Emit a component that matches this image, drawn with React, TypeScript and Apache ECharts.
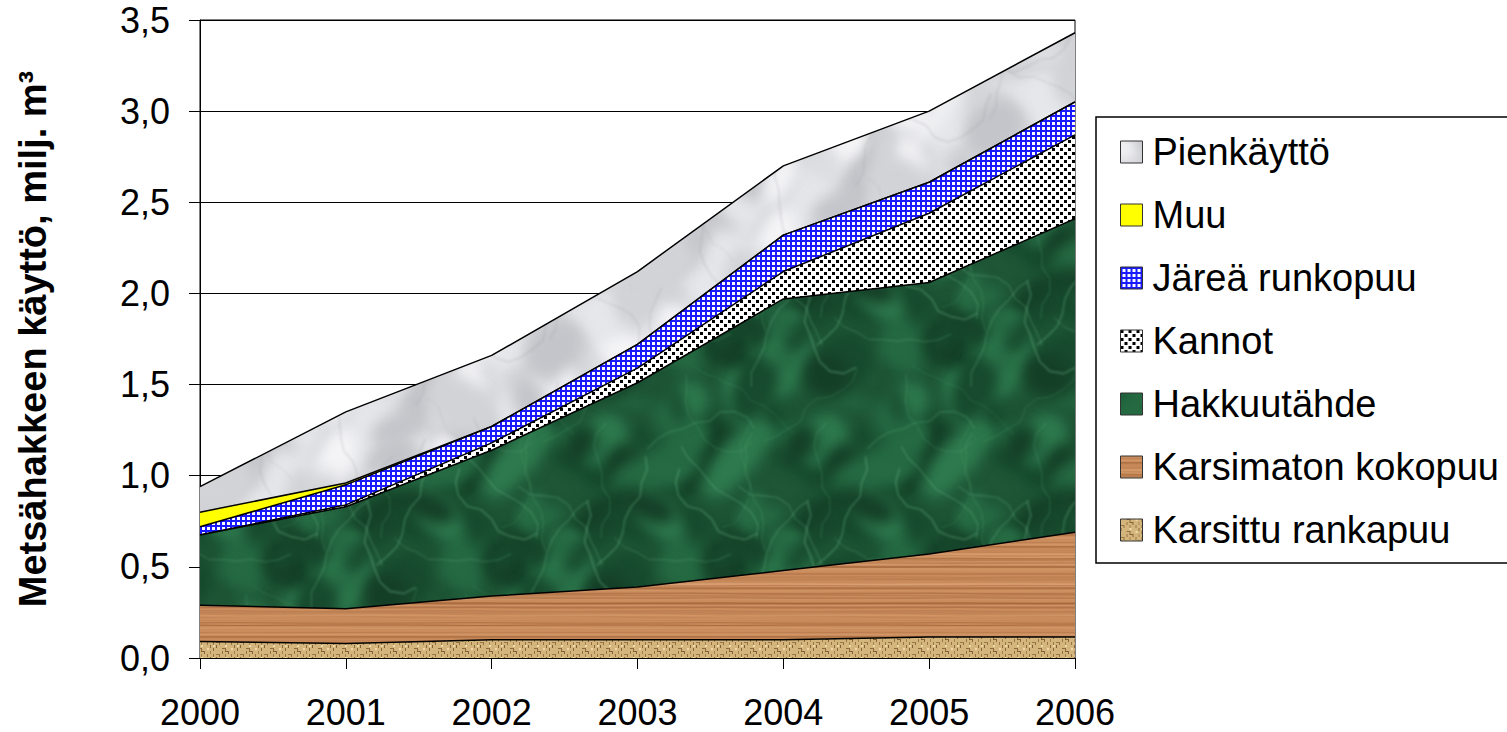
import React, { useEffect, useRef } from 'react';
import * as echarts from 'echarts';

// Forest chip use by source, million m³ (stacked from the bottom up)
const years = ['2000', '2001', '2002', '2003', '2004', '2005', '2006'];
const karsittuRankapuu = [0.09, 0.08, 0.1, 0.1, 0.1, 0.115, 0.115];
const karsimatonKokopuu = [0.2, 0.19, 0.24, 0.29, 0.38, 0.455, 0.575];
const hakkuutahde = [0.385, 0.56, 0.8, 1.12, 1.49, 1.49, 1.72];
const kannot = [0, 0.01, 0.04, 0.08, 0.15, 0.38, 0.46];
const jareaRunkopuu = [0.045, 0.11, 0.09, 0.13, 0.2, 0.17, 0.18];
const muu = [0.08, 0.01, 0, 0, 0, 0, 0];
const pienkaytto = [0.14, 0.39, 0.39, 0.4, 0.38, 0.39, 0.38];

const legendOrder = [
  'Pienkäyttö',
  'Muu',
  'Järeä runkopuu',
  'Kannot',
  'Hakkuutähde',
  'Karsimaton kokopuu',
  'Karsittu rankapuu',
];

const FONT = '"Liberation Sans", Arial, sans-serif';

// ---- texture helpers -------------------------------------------------------
function rng(seed: number) {
  let a = seed;
  return () => {
    a |= 0;
    a = (a + 0x6d2b79f5) | 0;
    let t = Math.imul(a ^ (a >>> 15), 1 | a);
    t = (t + Math.imul(t ^ (t >>> 7), 61 | t)) ^ t;
    return ((t ^ (t >>> 14)) >>> 0) / 4294967296;
  };
}

function makeCanvas(w: number, h: number) {
  const c = document.createElement('canvas');
  c.width = w;
  c.height = h;
  return c;
}

function toPattern(c: HTMLCanvasElement) {
  return {
    image: c.toDataURL(),
    repeat: 'repeat',
    imageWidth: c.width,
    imageHeight: c.height,
  } as any;
}

function wrapped(w: number, h: number, fn: (dx: number, dy: number) => void) {
  for (const dx of [-w, 0, w]) for (const dy of [-h, 0, h]) fn(dx, dy);
}

function marble(
  size: number,
  base: string,
  blobs: string[],
  veins: string[],
  veinWidth: number,
  veinCount: number,
  seed: number
) {
  const c = makeCanvas(size, size);
  const ctx = c.getContext('2d')!;
  const r = rng(seed);
  ctx.fillStyle = base;
  ctx.fillRect(0, 0, size, size);
  ctx.filter = 'blur(7px)';
  for (let i = 0; i < 45; i++) {
    const x = r() * size;
    const y = r() * size;
    const rx = 10 + r() * 40;
    const ry = 5 + r() * 22;
    const rot = r() * Math.PI;
    ctx.fillStyle = blobs[Math.floor(r() * blobs.length)];
    wrapped(size, size, (dx, dy) => {
      ctx.beginPath();
      ctx.ellipse(x + dx, y + dy, rx, ry, rot, 0, Math.PI * 2);
      ctx.fill();
    });
  }
  ctx.filter = 'blur(0.8px)';
  for (let i = 0; i < veinCount; i++) {
    const pts: [number, number][] = [];
    let x = r() * size;
    let y = r() * size;
    let ang = r() * Math.PI * 2;
    pts.push([x, y]);
    for (let k = 0; k < 9; k++) {
      ang += (r() - 0.5) * 1.4;
      x += Math.cos(ang) * 14;
      y += Math.sin(ang) * 14;
      pts.push([x, y]);
    }
    ctx.strokeStyle = veins[Math.floor(r() * veins.length)];
    ctx.lineWidth = veinWidth * (0.5 + r());
    wrapped(size, size, (dx, dy) => {
      ctx.beginPath();
      pts.forEach(([px, py], j) =>
        j === 0 ? ctx.moveTo(px + dx, py + dy) : ctx.lineTo(px + dx, py + dy)
      );
      ctx.stroke();
    });
  }
  ctx.filter = 'none';
  return c;
}

function wood() {
  const w = 240;
  const h = 90;
  const c = makeCanvas(w, h);
  const ctx = c.getContext('2d')!;
  const r = rng(77);
  ctx.fillStyle = '#c98b5b';
  ctx.fillRect(0, 0, w, h);
  for (let i = 0; i < 70; i++) {
    const y = r() * h;
    const dark = r() < 0.55;
    const a = 0.12 + r() * 0.3;
    ctx.strokeStyle = dark ? `rgba(140,80,40,${a})` : `rgba(230,175,130,${a})`;
    ctx.lineWidth = 0.6 + r() * 1.8;
    const o1 = (r() - 0.5) * 3;
    const o2 = (r() - 0.5) * 3;
    for (const dy of [-h, 0, h]) {
      ctx.beginPath();
      ctx.moveTo(0, y + dy);
      ctx.bezierCurveTo(w * 0.33, y + o1 + dy, w * 0.66, y + o2 + dy, w, y + dy);
      ctx.stroke();
    }
  }
  return c;
}

function burlap() {
  const w = 24;
  const h = 12;
  const c = makeCanvas(w, h);
  const ctx = c.getContext('2d')!;
  const r = rng(5);
  ctx.fillStyle = '#d4b57c';
  ctx.fillRect(0, 0, w, h);
  for (let y = 0; y < h; y += 3) {
    for (let x = 0; x < w; x += 3) {
      const v = r();
      if (v < 0.4) {
        ctx.fillStyle = `rgba(110,75,35,${0.45 + r() * 0.4})`;
        if ((x + y) % 2 === 0) ctx.fillRect(x, y, 3, 1);
        else ctx.fillRect(x, y, 1, 3);
      } else if (v < 0.6) {
        ctx.fillStyle = 'rgba(245,228,185,0.8)';
        ctx.fillRect(x, y, 2, 2);
      }
    }
  }
  return c;
}

function blueGrid() {
  const c = makeCanvas(5, 5);
  const ctx = c.getContext('2d')!;
  ctx.fillStyle = '#ffffff';
  ctx.fillRect(0, 0, 5, 5);
  ctx.fillStyle = '#1a1aff';
  ctx.fillRect(0, 0, 5, 2);
  ctx.fillRect(0, 0, 2, 5);
  return c;
}

function dots() {
  const c = makeCanvas(8, 8);
  const ctx = c.getContext('2d')!;
  ctx.fillStyle = '#ffffff';
  ctx.fillRect(0, 0, 8, 8);
  ctx.fillStyle = '#000000';
  ctx.fillRect(0, 0, 3, 3);
  ctx.fillRect(4, 4, 3, 3);
  return c;
}

export default function App() {
  const ref = useRef<HTMLDivElement>(null);

  useEffect(() => {
    if (!ref.current) return;
    document.body.style.margin = '0';
    const chart = echarts.init(ref.current, undefined, { renderer: 'svg' });

    const fills: Record<string, any> = {
      'Karsittu rankapuu': toPattern(burlap()),
      'Karsimaton kokopuu': toPattern(wood()),
      Hakkuutähde: toPattern(
        marble(
          220,
          '#1e5636',
          ['#143f27', '#174a2e', '#2e7a4e', '#256a42'],
          ['rgba(130,210,160,0.3)', 'rgba(90,170,120,0.3)'],
          1.3,
          14,
          11
        )
      ),
      Kannot: toPattern(dots()),
      'Järeä runkopuu': toPattern(blueGrid()),
      Muu: '#ffff00',
      Pienkäyttö: toPattern(
        marble(
          220,
          '#e6e7ea',
          ['#d2d3d7', '#f4f4f6', '#dcdde0', '#c4c5ca'],
          ['rgba(150,150,158,0.25)'],
          1.2,
          8,
          23
        )
      ),
    };

    const stackOrder: [string, number[]][] = [
      ['Karsittu rankapuu', karsittuRankapuu],
      ['Karsimaton kokopuu', karsimatonKokopuu],
      ['Hakkuutähde', hakkuutahde],
      ['Kannot', kannot],
      ['Järeä runkopuu', jareaRunkopuu],
      ['Muu', muu],
      ['Pienkäyttö', pienkaytto],
    ];

    const series = stackOrder.map(([name, data], i) => ({
      name,
      type: 'line',
      stack: 'total',
      data,
      symbol: 'none',
      z: 20 - i,
      lineStyle: { color: '#000', width: 1.5 },
      itemStyle: { color: '#000' },
      areaStyle: { color: fills[name], opacity: 1 },
      emphasis: { disabled: true },
    }));

    chart.setOption({
      animation: false,
      grid: {
        left: 200,
        right: 432,
        top: 20,
        bottom: 74,
        show: true,
        borderColor: '#000',
        borderWidth: 1,
      },
      xAxis: {
        type: 'category',
        data: years,
        boundaryGap: false,
        axisLine: { lineStyle: { color: '#000', width: 1 } },
        axisTick: { show: true, length: 11, lineStyle: { color: '#000' } },
        axisLabel: { color: '#000', fontSize: 36, fontFamily: FONT, margin: 36 },
        splitLine: { show: false },
      },
      yAxis: {
        type: 'value',
        min: 0,
        max: 3.5,
        interval: 0.5,
        name: 'Metsähakkeen käyttö, milj. m³',
        nameLocation: 'middle',
        nameRotate: 90,
        nameGap: 148,
        nameTextStyle: {
          color: '#000',
          fontSize: 38,
          fontWeight: 'bold',
          fontFamily: FONT,
        },
        axisLine: { show: true, lineStyle: { color: '#000', width: 1 } },
        axisTick: { show: true, length: 11, lineStyle: { color: '#000' } },
        axisLabel: {
          color: '#000',
          fontSize: 36,
          fontFamily: FONT,
          margin: 30,
          formatter: (v: number) => v.toFixed(1).replace('.', ','),
        },
        splitLine: { show: true, lineStyle: { color: '#000', width: 1 } },
      },
      legend: {
        orient: 'vertical',
        left: 1120,
        top: 133,
        padding: 0,
        itemWidth: 22,
        itemHeight: 22,
        itemGap: 25,
        icon: 'rect',
        selectedMode: false,
        textStyle: {
          color: '#000',
          fontSize: 38,
          fontFamily: FONT,
          padding: [0, 0, 0, 5],
        },
        data: legendOrder.map((name) => ({
          name,
          icon: 'rect',
          itemStyle: { color: fills[name], borderColor: '#333', borderWidth: 1 },
        })),
      },
      graphic: [
        {
          type: 'rect',
          z: 0,
          shape: { x: 1096, y: 117, width: 430, height: 446 },
          style: { fill: '#fff', stroke: '#000', lineWidth: 1.5 },
        },
      ],
      tooltip: { show: false },
      series,
    });

    return () => chart.dispose();
  }, []);

  return <div ref={ref} style={{ width: 1507, height: 732, background: '#fff' }} />;
}
